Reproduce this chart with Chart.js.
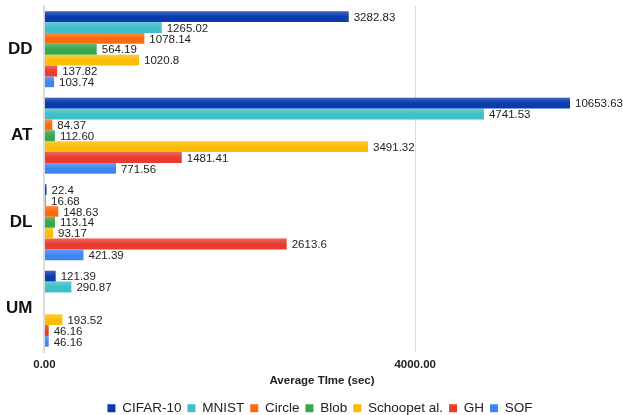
<!DOCTYPE html>
<html>
<head>
<meta charset="utf-8">
<script src="https://cdn.jsdelivr.net/npm/chart.js@4.4.0/dist/chart.umd.min.js"></script>
<style>
  html, body { margin: 0; padding: 0; background: #fff; }
  #wrap { width: 623px; height: 415px; }
</style>
</head>
<body>
<div id="wrap"><canvas id="time-chart"></canvas></div>
<script>
const categories = ['DD', 'AT', 'DL', 'UM'];
const seriesNames = ['CIFAR-10', 'MNIST', 'Circle', 'Blob', 'Schoopet al.', 'GH', 'SOF'];
const seriesColors = ['#0b3cae', '#3fbfc8', '#ff6a0e', '#34a84b', '#fbbd06', '#ea3b2f', '#3f86f5'];

const cifar = [3282.83, 10653.63, 22.4, 121.39];
const mnist = [1265.02, 4741.53, 16.68, 290.87];
const circle = [1078.14, 84.37, 148.63, null];
const blob = [564.19, 112.60, 113.14, null];
const schoop = [1020.8, 3491.32, 93.17, 193.52];
const gh = [137.82, 1481.41, 2613.6, 46.16];
const sof = [103.74, 771.56, 421.39, 46.16];

// labels as printed in the picture
const cifarLabels = ['3282.83', '10653.63', '22.4', '121.39'];
const mnistLabels = ['1265.02', '4741.53', '16.68', '290.87'];
const circleLabels = ['1078.14', '84.37', '148.63', ''];
const blobLabels = ['564.19', '112.60', '113.14', ''];
const schoopLabels = ['1020.8', '3491.32', '93.17', '193.52'];
const ghLabels = ['137.82', '1481.41', '2613.6', '46.16'];
const sofLabels = ['103.74', '771.56', '421.39', '46.16'];

const xTicks = [0, 4000];
const xMax = 5670;
const xTitle = 'Average TIme (sec)';
const FONT = '"Liberation Sans", Arial, sans-serif';

const allValues = [cifar, mnist, circle, blob, schoop, gh, sof];
const allLabels = [cifarLabels, mnistLabels, circleLabels, blobLabels, schoopLabels, ghLabels, sofLabels];

const valueLabels = {
    id: 'valueLabels',
    afterLayout(chart) {
        // legend sits a bit right of the plot centre in the original
        chart.legend.left += 34;
        chart.legend.right += 34;
    },
    afterDatasetsDraw(chart) {
        const ctx = chart.ctx;
        const area = chart.chartArea;
        ctx.save();
        // light sheen on the upper half of every bar
        ctx.beginPath();
        ctx.rect(area.left, area.top, area.right - area.left, area.bottom - area.top);
        ctx.clip();
        chart.data.datasets.forEach(function (ds, i) {
            chart.getDatasetMeta(i).data.forEach(function (bar, j) {
                if (ds.data[j] === null) return;
                const top = bar.y - bar.height / 2;
                const g = ctx.createLinearGradient(0, top, 0, top + bar.height);
                g.addColorStop(0, 'rgba(255,255,255,0.22)');
                g.addColorStop(0.5, 'rgba(255,255,255,0)');
                ctx.fillStyle = g;
                ctx.fillRect(bar.base, top, bar.x - bar.base, bar.height);
            });
        });
        ctx.restore();

        ctx.save();
        ctx.font = '11.5px ' + FONT;
        ctx.fillStyle = '#222';
        ctx.textBaseline = 'middle';
        ctx.textAlign = 'left';
        chart.data.datasets.forEach(function (ds, i) {
            chart.getDatasetMeta(i).data.forEach(function (bar, j) {
                if (ds.data[j] === null) return;
                const x = Math.min(bar.x, area.right) + 5;
                ctx.fillText(allLabels[i][j], x, bar.y + 1);
            });
        });
        // axis title
        ctx.font = 'bold 11.5px ' + FONT;
        ctx.textAlign = 'center';
        ctx.fillText(xTitle, 322, chart.scales.x.bottom - 15);
        ctx.restore();
    }
};

new Chart(document.getElementById('time-chart'), {
    type: 'bar',
    data: {
        labels: categories,
        datasets: seriesNames.map(function (name, i) {
            return {
                label: name,
                data: allValues[i],
                backgroundColor: seriesColors[i],
                borderWidth: 0,
                categoryPercentage: 0.88,
                barPercentage: 1.0
            };
        })
    },
    options: {
        indexAxis: 'y',
        responsive: true,
        maintainAspectRatio: false,
        animation: false,
        layout: {
            padding: { top: 6, right: 53, left: 2, bottom: -10 }
        },
        plugins: {
            tooltip: { enabled: false },
            legend: {
                position: 'bottom',
                labels: {
                    boxWidth: 8,
                    boxHeight: 8,
                    padding: 6,
                    color: '#222',
                    font: { size: 13.5, family: FONT }
                }
            }
        },
        scales: {
            x: {
                min: 0,
                max: xMax,
                afterBuildTicks: function (axis) {
                    axis.ticks = xTicks.map(function (v) { return { value: v }; });
                },
                afterFit: function (scale) {
                    scale.height += 18;
                },
                border: { display: false },
                grid: {
                    color: function (c) { return c.tick && c.tick.value === 0 ? 'rgba(0,0,0,0)' : '#dcdcdc'; },
                    drawTicks: false,
                    lineWidth: 1
                },
                ticks: {
                    color: '#222',
                    padding: 7,
                    font: { size: 11.5, weight: 'bold', family: FONT, lineHeight: 1 },
                    callback: function (v) { return Number(v).toFixed(2); }
                }
            },
            y: {
                afterFit: function (scale) {
                    scale.paddingTop = 0;
                    scale.paddingBottom = 0;
                },
                border: { display: true, color: '#dcdcdc', width: 2 },
                grid: { display: false },
                ticks: {
                    color: '#111',
                    padding: 4,
                    font: { size: 17, weight: 'bold', family: FONT }
                }
            }
        }
    },
    plugins: [valueLabels]
});
</script>
</body>
</html>
